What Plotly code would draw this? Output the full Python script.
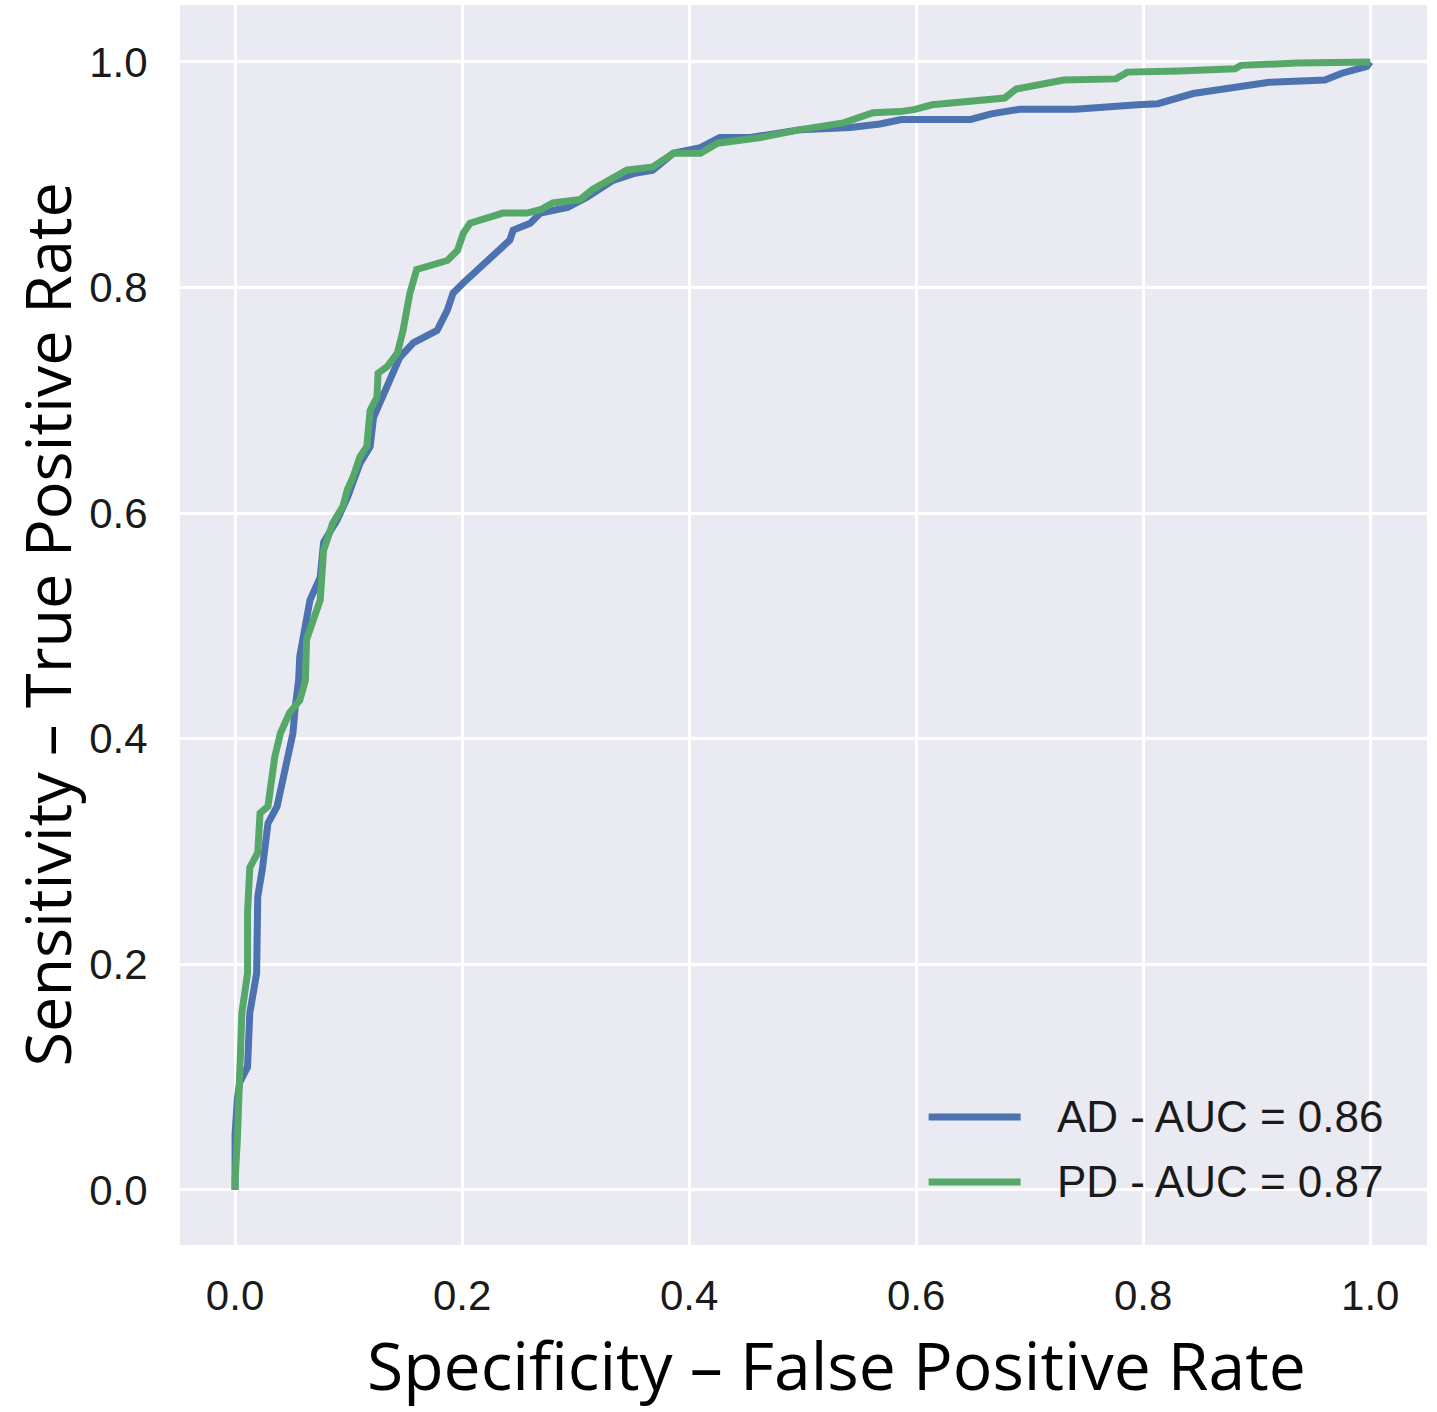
import plotly.graph_objects as go

# ROC curve data
ad_fpr = [0.0, 0.0, 0.002, 0.004, 0.011, 0.013, 0.019, 0.020, 0.024, 0.029, 0.037, 0.042, 0.046,
          0.051, 0.053, 0.056, 0.057, 0.066, 0.075, 0.078, 0.090, 0.099, 0.110, 0.119, 0.122,
          0.130, 0.137, 0.145, 0.157, 0.166, 0.178, 0.187, 0.192, 0.201, 0.216, 0.233, 0.242,
          0.245, 0.260, 0.269, 0.293, 0.310, 0.333, 0.351, 0.368, 0.386, 0.410, 0.427, 0.454,
          0.498, 0.542, 0.568, 0.587, 0.648, 0.666, 0.691, 0.740, 0.795, 0.813, 0.844, 0.869,
          0.911, 0.960, 0.975, 0.997, 1.0]
ad_tpr = [0.0, 0.049, 0.080, 0.095, 0.109, 0.157, 0.192, 0.260, 0.284, 0.325, 0.340, 0.363, 0.384,
          0.405, 0.428, 0.452, 0.473, 0.523, 0.543, 0.574, 0.594, 0.614, 0.644, 0.659, 0.685,
          0.703, 0.718, 0.738, 0.751, 0.756, 0.762, 0.780, 0.795, 0.804, 0.818, 0.833, 0.842,
          0.851, 0.857, 0.866, 0.871, 0.880, 0.895, 0.901, 0.904, 0.919, 0.924, 0.933, 0.933,
          0.940, 0.942, 0.945, 0.949, 0.949, 0.954, 0.958, 0.958, 0.962, 0.963, 0.972, 0.976,
          0.982, 0.984, 0.990, 0.996, 1.0]

pd_fpr = [0.0, 0.0, 0.002, 0.004, 0.006, 0.011, 0.011, 0.013, 0.020, 0.022, 0.029, 0.031, 0.035,
          0.040, 0.048, 0.057, 0.062, 0.063, 0.075, 0.078, 0.086, 0.095, 0.099, 0.104, 0.110,
          0.116, 0.119, 0.125, 0.126, 0.134, 0.143, 0.148, 0.154, 0.160, 0.174, 0.187, 0.196,
          0.201, 0.207, 0.222, 0.236, 0.257, 0.269, 0.280, 0.304, 0.315, 0.333, 0.345, 0.368,
          0.386, 0.410, 0.425, 0.463, 0.498, 0.536, 0.562, 0.586, 0.599, 0.614, 0.645, 0.678,
          0.688, 0.706, 0.730, 0.776, 0.786, 0.832, 0.881, 0.886, 0.936, 1.0]
pd_tpr = [0.0, 0.009, 0.044, 0.089, 0.157, 0.192, 0.246, 0.286, 0.299, 0.334, 0.340, 0.355, 0.384,
          0.405, 0.423, 0.434, 0.452, 0.488, 0.523, 0.567, 0.591, 0.606, 0.621, 0.632, 0.650,
          0.659, 0.691, 0.703, 0.724, 0.730, 0.742, 0.762, 0.795, 0.816, 0.820, 0.824, 0.833,
          0.848, 0.857, 0.862, 0.866, 0.866, 0.869, 0.875, 0.878, 0.887, 0.897, 0.904, 0.907,
          0.919, 0.919, 0.928, 0.933, 0.940, 0.946, 0.955, 0.956, 0.958, 0.962, 0.965, 0.968,
          0.976, 0.979, 0.984, 0.985, 0.991, 0.992, 0.994, 0.997, 0.999, 1.0]

series_names = ["AD - AUC = 0.86", "PD - AUC = 0.87"]
series_colors = ["#4C72B0", "#55A868"]
tick_vals = [0.0, 0.2, 0.4, 0.6, 0.8, 1.0]
tick_text = ["0.0", "0.2", "0.4", "0.6", "0.8", "1.0"]
x_title = "Specificity – False Positive Rate"
y_title = "Sensitivity – True Positive Rate"

fig = go.Figure()
for xs, ys, name, col in zip([ad_fpr, pd_fpr], [ad_tpr, pd_tpr], series_names, series_colors):
    fig.add_trace(go.Scatter(x=xs, y=ys, mode="lines", name=name,
                             line=dict(color=col, width=7), showlegend=False))

tick_font = dict(family="Liberation Sans, Arial, sans-serif", size=42, color="#1a1a1a")
x_title_font = dict(family="Open Sans, sans-serif", size=66, color="#000000")
y_title_font = dict(family="Open Sans, sans-serif", size=63, color="#000000")

fig.update_layout(
    width=1437, height=1412,
    margin=dict(l=180, r=10, t=5, b=167),
    paper_bgcolor="white",
    plot_bgcolor="#EAEAF2",
    xaxis=dict(range=[-0.0485, 1.05], tickvals=tick_vals, ticktext=tick_text,
               showgrid=True, gridcolor="white", gridwidth=3, zeroline=False,
               showline=False, ticks="outside", ticklen=14, tickcolor="rgba(0,0,0,0)",
               tickfont=tick_font),
    yaxis=dict(range=[-0.0488, 1.0505], tickvals=tick_vals, ticktext=tick_text,
               showgrid=True, gridcolor="white", gridwidth=3, zeroline=False,
               showline=False, ticks="outside", ticklen=23, tickcolor="rgba(0,0,0,0)",
               tickfont=tick_font),
)

# Axis titles
fig.add_annotation(text=x_title, xref="paper", yref="paper", x=(836 - 180) / 1247, y=-(1411 - 1245) / 1240,
                   xanchor="center", yanchor="bottom", showarrow=False, font=x_title_font)
fig.add_annotation(text=y_title, xref="paper", yref="paper", x=-179 / 1247, y=0.5,
                   xanchor="left", yanchor="middle", textangle=-90, showarrow=False, font=y_title_font)

# Legend (drawn manually to match long legend lines)
leg_y = [0.0647, 0.0071]
for name, col, yy in zip(series_names, series_colors, leg_y):
    fig.add_shape(type="line", xref="x", yref="y", x0=0.611, x1=0.692, y0=yy, y1=yy,
                  line=dict(color=col, width=7))
    fig.add_annotation(text=name, xref="x", yref="y", x=0.722, y=yy, xanchor="left",
                       yanchor="middle", showarrow=False,
                       font=dict(family="Liberation Sans, Arial, sans-serif", size=44, color="#1a1a1a"))

fig.write_html("out.html")
